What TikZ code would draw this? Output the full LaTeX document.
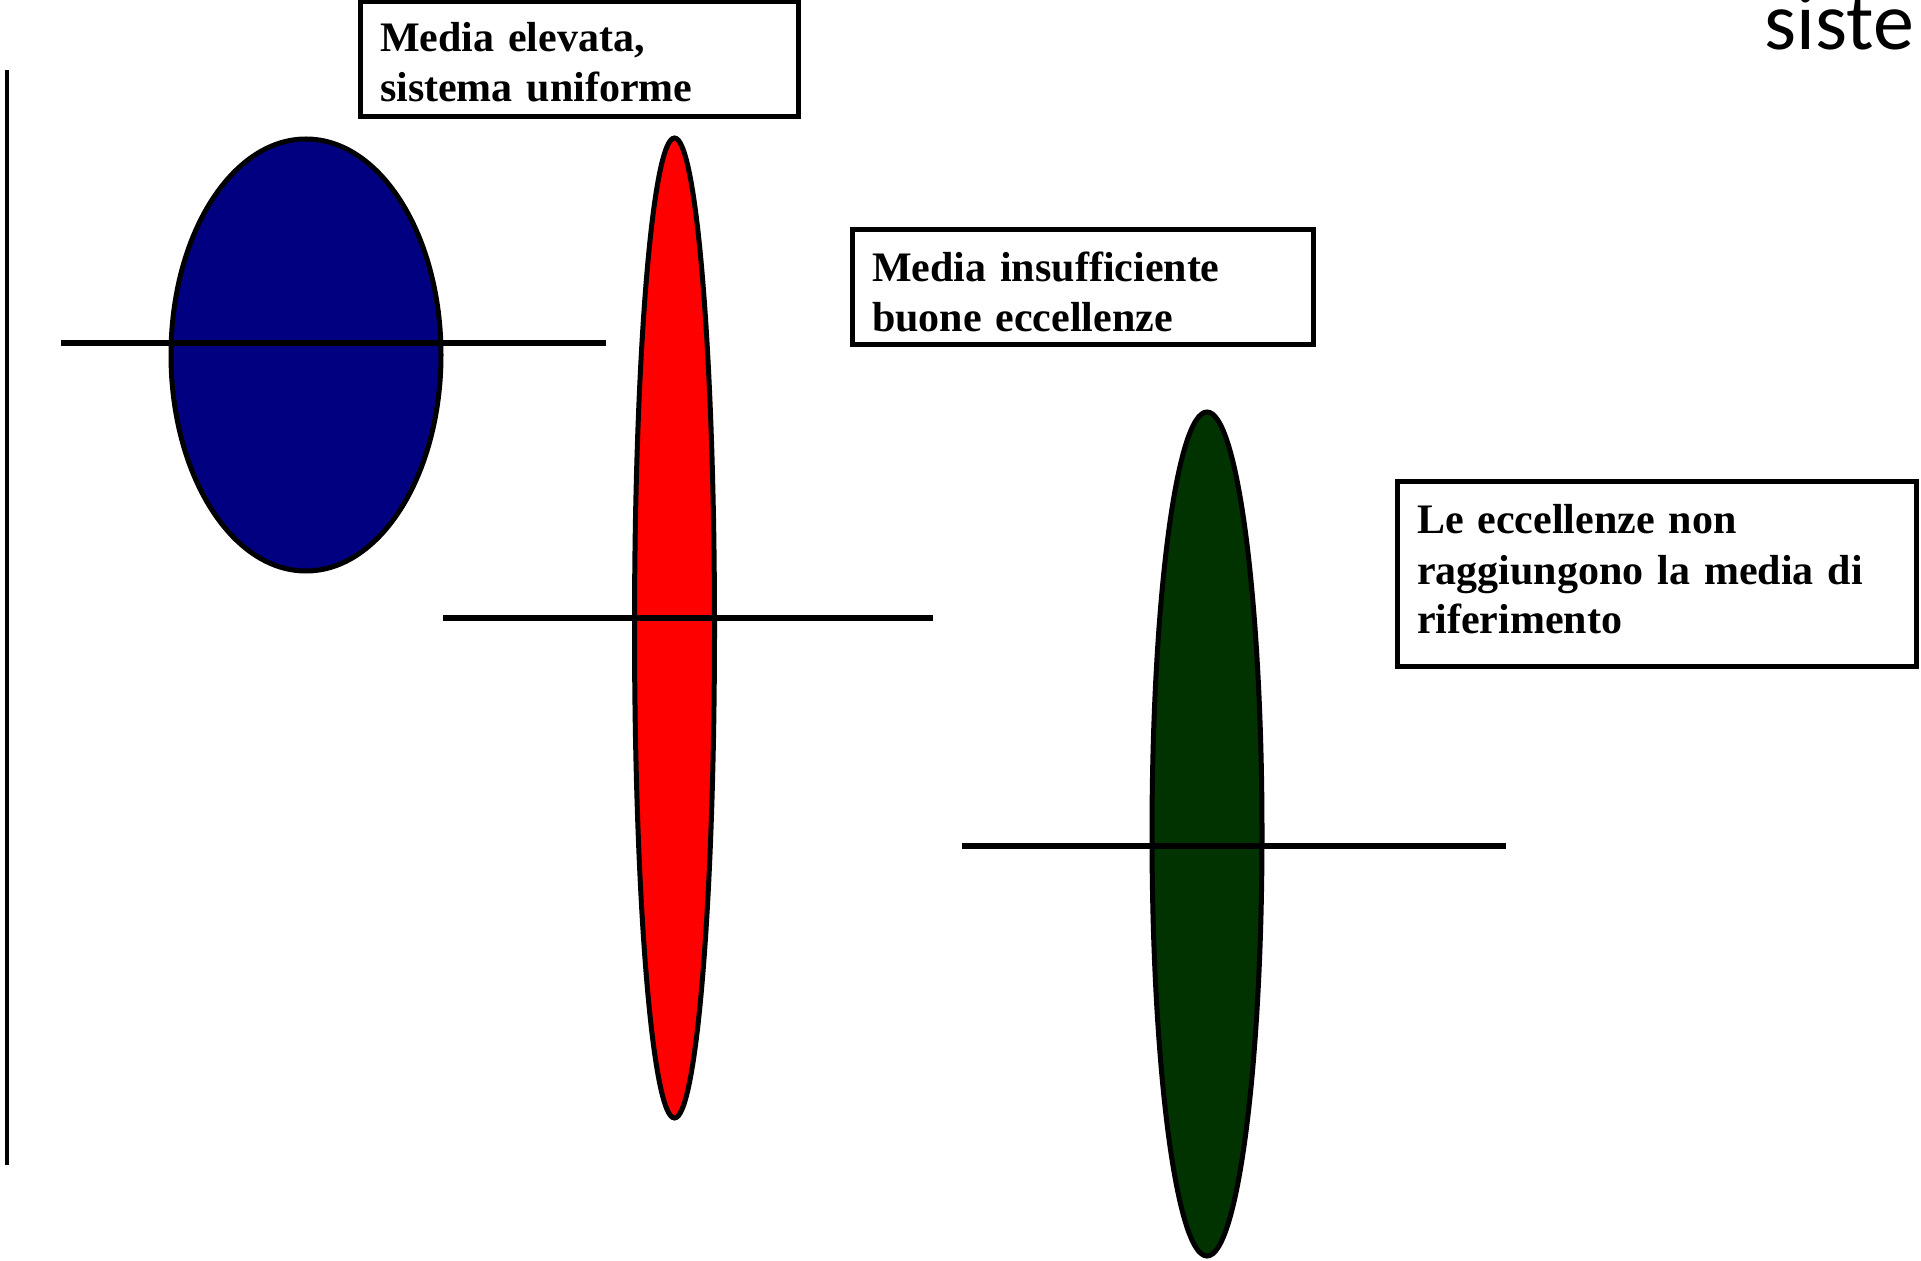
\documentclass[tikz,border=0pt]{standalone}
\usepackage{fontspec}
\setmainfont{Liberation Serif}
\newfontfamily\slidefont{Carlito}
\usetikzlibrary{shapes.geometric}
\definecolor{navyfill}{RGB}{0,0,128}
\definecolor{redfill}{RGB}{255,0,0}
\definecolor{greenfill}{RGB}{0,51,0}
\tikzset{
  blob/.style={ellipse, draw, line width=2.5pt, inner sep=0pt, outer sep=0pt},
  notebox/.style={draw, line width=2.5pt, anchor=north west, align=left, inner xsep=10pt, inner ysep=0pt, outer sep=0pt, font=\bfseries\fontsize{21}{25}\selectfont},
  mean/.style={line width=3pt}
}

\begin{document}
\begin{tikzpicture}[x=0.5pt, y=-0.5pt]
\useasboundingbox (0,0) rectangle (1921,1261);

\node[blob, fill=navyfill, minimum width=135pt, minimum height=216pt] (high) at (306,355) {};
\node[blob, fill=redfill, minimum width=40pt, minimum height=490pt] (low) at (674.5,628) {};
\node[blob, fill=greenfill, minimum width=55pt, minimum height=422pt] (flat) at (1207,834) {};

\coordinate (h1) at (61,343);
\coordinate (h2) at (606,343);
\coordinate (l1) at (443,618);
\coordinate (l2) at (933,618);
\coordinate (f1) at (962,846);
\coordinate (f2) at (1506,846);
\coordinate (axtop) at (7,70);
\coordinate (axbot) at (7,1165);

\draw[mean] (h1) to (h2);
\draw[mean] (l1) to (l2);
\draw[mean] (f1) to (f2);
\draw[line width=2.25pt] (axtop) to (axbot);

\node[notebox, text width=199pt, text height=25pt, text depth=32.5pt] (highnote) at (360,2)
  {Media elevata,\\ sistema uniforme};
\node[notebox, text width=210.5pt, text height=26pt, text depth=31.5pt] (lownote) at (852,230)
  {Media insufficiente\\ buone eccellenze};
\node[notebox, text width=239.5pt, text height=26pt, text depth=66pt] (flatnote) at (1397,482)
  {Le eccellenze non\\ raggiungono la media di\\ riferimento};

\node[anchor=base west, inner sep=0pt, font=\slidefont\fontsize{41}{49}\selectfont] (title) at (1764,50) {siste};
\end{tikzpicture}
\end{document}
